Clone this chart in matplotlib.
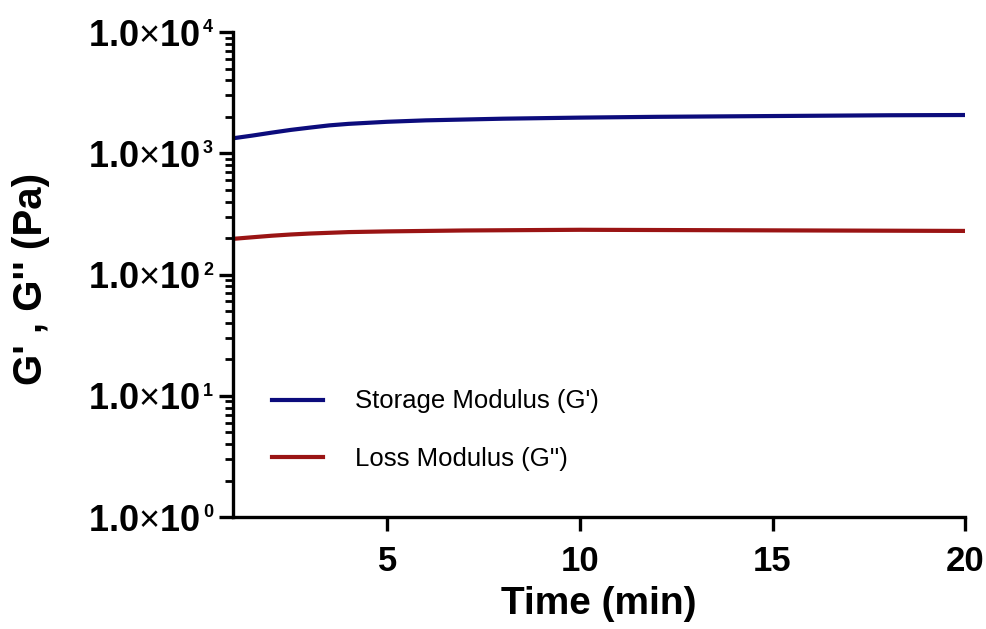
import numpy as np
import matplotlib
matplotlib.use("Agg")
import matplotlib.pyplot as plt
from matplotlib.ticker import LogLocator, FixedLocator, NullFormatter

# values
time_min = [1, 1.5, 2, 2.5, 3, 3.5, 4, 5, 6, 7, 8, 10, 12, 14, 16, 18, 20]
storage_modulus = [1330, 1400, 1480, 1560, 1630, 1700, 1750, 1820, 1870, 1900,
                   1930, 1970, 2000, 2020, 2040, 2060, 2070]
loss_modulus = [197, 203, 209, 214, 218, 221, 224, 227, 229, 231,
                232, 234, 233, 232, 231, 230, 229]

x_ticks = [5, 10, 15, 20]
y_exponents = [0, 1, 2, 3, 4]

plt.rcParams["font.family"] = ["Liberation Sans", "DejaVu Sans"]
plt.rcParams["mathtext.fontset"] = "custom"
plt.rcParams["mathtext.rm"] = "Liberation Sans"
plt.rcParams["mathtext.bf"] = "Liberation Sans:bold"

fig = plt.figure(figsize=(9.87, 6.29), dpi=100)
ax = fig.add_axes([0.236, 0.178, 0.742, 0.771])

ax.plot(time_min, storage_modulus, color="#0c0c7c", lw=3.0, label="Storage Modulus (G')")
ax.plot(time_min, loss_modulus, color="#9a1414", lw=3.0, label="Loss Modulus (G'')")

ax.set_yscale("log")
ax.set_xlim(1, 20)
ax.set_ylim(1, 1e4)

ax.xaxis.set_major_locator(FixedLocator(x_ticks))
ax.set_xticklabels([str(t) for t in x_ticks], fontsize=25, fontweight="bold")

# y labels as "1.0x10" with a small exponent placed to the upper right
y_major = [10.0 ** e for e in y_exponents]
ax.yaxis.set_major_locator(FixedLocator(y_major))
ax.set_yticklabels([r"$\mathbf{1.0}{\times}\mathbf{10}$" for _ in y_exponents], fontsize=26)
for e, v in zip(y_exponents, y_major):
    ax.annotate(str(e), xy=(0, v), xycoords=("axes fraction", "data"),
                xytext=(-30, 13), textcoords="offset pixels",
                ha="left", va="top", fontsize=13, fontweight="bold",
                annotation_clip=False)

ax.yaxis.set_minor_locator(LogLocator(base=10, subs=np.arange(2, 10)))
ax.yaxis.set_minor_formatter(NullFormatter())

for side in ["top", "right"]:
    ax.spines[side].set_visible(False)
for side in ["left", "bottom"]:
    ax.spines[side].set_linewidth(2.4)

ax.tick_params(axis="y", which="major", direction="out", length=10, width=2.4, pad=14)
ax.tick_params(axis="y", which="minor", direction="out", length=6, width=2.0)
ax.tick_params(axis="x", which="major", direction="out", length=10, width=2.4, pad=10)

ax.set_xlabel("Time (min)", fontsize=28, fontweight="bold", labelpad=6)
ax.set_ylabel("G' , G'' (Pa)", fontsize=29, fontweight="bold")
ax.yaxis.set_label_coords(-0.25, 0.49)

ax.legend(loc="upper left", bbox_to_anchor=(0.053, 0.263), frameon=False,
          fontsize=18.5, handlelength=1.98, handletextpad=1.25, labelspacing=1.31,
          borderpad=0, borderaxespad=0)

fig.savefig("out.png", dpi=100)
